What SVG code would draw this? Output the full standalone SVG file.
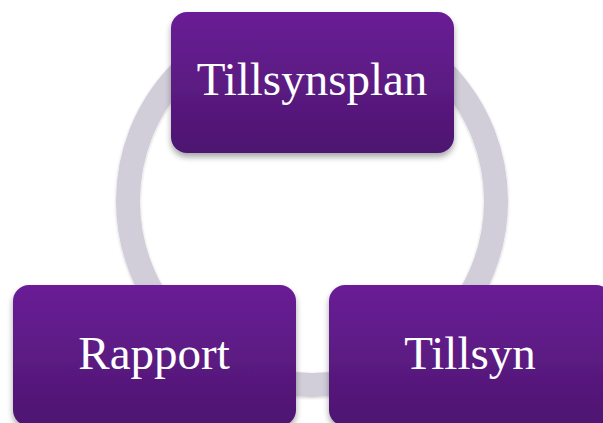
<svg xmlns="http://www.w3.org/2000/svg" width="603" height="423" viewBox="0 0 603 423">
<defs>
<linearGradient id="g" x1="0" y1="0" x2="0" y2="1">
<stop offset="0" stop-color="#6a1f96"/>
<stop offset="1" stop-color="#4d1670"/>
</linearGradient>
<filter id="sh" x="-10%" y="-10%" width="120%" height="130%">
<feGaussianBlur in="SourceAlpha" stdDeviation="3"/>
<feOffset dx="0" dy="4" result="b"/>
<feComponentTransfer><feFuncA type="linear" slope="0.35"/></feComponentTransfer>
<feMerge><feMergeNode/><feMergeNode in="SourceGraphic"/></feMerge>
</filter>
<filter id="rs" x="-10%" y="-10%" width="120%" height="120%">
<feGaussianBlur in="SourceAlpha" stdDeviation="1.5"/>
<feOffset dx="0" dy="1"/>
<feComponentTransfer><feFuncA type="linear" slope="0.2"/></feComponentTransfer>
<feMerge><feMergeNode/><feMergeNode in="SourceGraphic"/></feMerge>
</filter>
<clipPath id="cut">
<path clip-rule="evenodd" d="M0 0H603V423H0Z M171 0H454V80H171Z"/>
</clipPath>
</defs>
<style>
.box{fill:url(#g);filter:url(#sh)}
.lbl{font-family:"Liberation Serif","DejaVu Serif",serif;font-size:47px;fill:#ffffff;text-anchor:middle}
</style>
<rect width="603" height="423" fill="#ffffff"/>
<g id="connectors" clip-path="url(#cut)">
<circle cx="312" cy="201" r="184" fill="none" stroke="#d1cdd9" stroke-width="24" filter="url(#rs)"/>
</g>
<g id="tillsynsplan">
<rect class="box" x="171" y="12" width="283" height="141" rx="16"/>
<text class="lbl" x="312" y="95">Tillsynsplan</text>
</g>
<g id="rapport">
<rect class="box" x="13" y="285" width="283" height="141" rx="16"/>
<text class="lbl" x="154" y="369">Rapport</text>
</g>
<g id="tillsyn">
<rect class="box" x="329" y="285" width="283" height="141" rx="16"/>
<text class="lbl" x="470" y="369">Tillsyn</text>
</g>
</svg>
